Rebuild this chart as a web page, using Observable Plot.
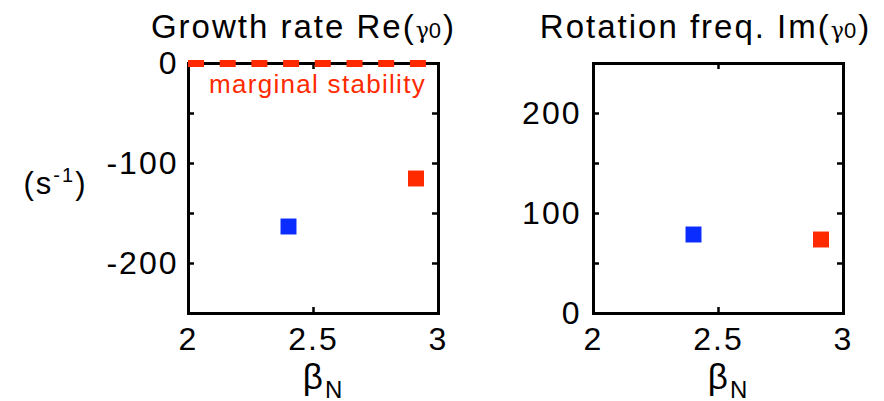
<!DOCTYPE html>
<html><head><meta charset="utf-8">
<script src="https://cdn.jsdelivr.net/npm/d3@7"></script>
<script src="https://cdn.jsdelivr.net/npm/@observablehq/plot@0.6"></script>
<style>body{margin:0;background:#fff;} #wrap{display:flex;width:884px;height:401px;overflow:hidden;}</style>
</head><body><div id="wrap"></div>
<script>
// ---- data ----
const betaN = [2.40, 2.91];
const growthRate = [-163, -115];
const rotationFreq = [79, 74];
const caseColor = ["#0a2cff", "#ff2a00"];
const xTicks = [2, 2.5, 3];
const xMinor = [2.5];
const growthTicks = [0, -100, -200];
const growthMinor = [-50, -100, -150, -200];
const rotTicks = [0, 100, 200];
const rotMinor = [50, 100, 150, 200];
const marginal = [{y: 0, x1: 2, x2: 2.965}];
const titleLeft = "Growth rate Re(γ0)";
const titleRight = "Rotation freq. Im(γ0)";
const xLabel = "βN";
const unitLabel = "(s-1)";
const marginalLabel = "marginal stability";

const red = "#ff2a00";
const points = betaN.map((b, i) => ({beta: b, growth: growthRate[i], rot: rotationFreq[i], color: caseColor[i]}));
const font = "'Liberation Sans', Arial, Helvetica, sans-serif";
const W = 250, H = 250, tk = 6;

function rich(svg) {
  const g = '<tspan font-size="22" font-family="DejaVu Serif" letter-spacing="0">γ</tspan><tspan font-size="22">0</tspan><tspan>)</tspan>';
  const map = {
    [titleLeft]: '<tspan>Growth rate Re(</tspan>' + g,
    [titleRight]: '<tspan>Rotation freq. Im(</tspan>' + g,
    [xLabel]: '<tspan>β</tspan><tspan font-size="24" dy="9">N</tspan>',
    [unitLabel]: '<tspan>(s</tspan><tspan font-size="20" dy="-12">-1</tspan><tspan dy="12">)</tspan>'
  };
  d3.select(svg).selectAll("text").each(function() {
    const t = this.textContent;
    if (map[t]) this.innerHTML = map[t];
    if (t === marginalLabel) this.style.letterSpacing = "1.3px";
  });
  return svg;
}

function commonMarks(minorY, tickLabelsY, yPad) {
  return [
    Plot.axisX(xTicks, {tickSize: 0, tickPadding: 14, fontSize: 32, label: null, tickFormat: d => String(d)}),
    Plot.axisY(tickLabelsY, {tickSize: 0, tickPadding: yPad, fontSize: 32, label: null, tickFormat: d => String(d)}),
    Plot.tickY(minorY, {y: d => d, insetRight: W - tk, strokeWidth: 2.5}),
    Plot.tickY(minorY, {y: d => d, insetLeft: W - tk, strokeWidth: 2.5}),
    Plot.tickX(xMinor, {x: d => d, insetTop: H - tk, strokeWidth: 2.5}),
    Plot.tickX(xMinor, {x: d => d, insetBottom: H - tk, strokeWidth: 2.5}),
    Plot.frame({strokeWidth: 3, stroke: "#000"})
  ];
}

const left = Plot.plot({
  width: 450, height: 401,
  marginLeft: 188, marginRight: 12, marginTop: 63, marginBottom: 88,
  style: {fontFamily: font, letterSpacing: "2px", background: "transparent", overflow: "visible", color: "#000"},
  x: {domain: [2, 3]},
  y: {domain: [-250, 0]},
  marks: [
    ...commonMarks(growthMinor, growthTicks, 10),
    Plot.ruleY(marginal, {y: "y", x1: "x1", x2: "x2", stroke: red, strokeWidth: 7, strokeDasharray: "16,15.7"}),
    Plot.dot(points, {x: "beta", y: "growth", fill: "color", symbol: "square", r: 9}),
    Plot.text([marginalLabel], {frameAnchor: "top", dx: 4, dy: 29, lineAnchor: "bottom", fontSize: 26, fill: red}),
    Plot.text([titleLeft], {frameAnchor: "top", dx: -10, dy: -26, lineAnchor: "bottom", fontSize: 33}),
    Plot.text([xLabel], {frameAnchor: "bottom", dx: 10, dy: 75, lineAnchor: "bottom", fontSize: 35}),
    Plot.text([unitLabel], {frameAnchor: "left", dx: -165, dy: 5, textAnchor: "start", lineAnchor: "bottom", fontSize: 31})
  ]
});

const right = Plot.plot({
  width: 434, height: 401,
  marginLeft: 143, marginRight: 41, marginTop: 63, marginBottom: 88,
  style: {fontFamily: font, letterSpacing: "2px", background: "transparent", overflow: "visible", color: "#000"},
  x: {domain: [2, 3]},
  y: {domain: [0, 250]},
  marks: [
    ...commonMarks(rotMinor, rotTicks, 12),
    Plot.dot(points, {x: "beta", y: "rot", fill: "color", symbol: "square", r: 9}),
    Plot.text([titleRight], {frameAnchor: "top", dx: -13, dy: -26, lineAnchor: "bottom", fontSize: 33}),
    Plot.text([xLabel], {frameAnchor: "bottom", dx: 10, dy: 75, lineAnchor: "bottom", fontSize: 35})
  ]
});

const wrap = document.getElementById("wrap");
wrap.appendChild(rich(left));
wrap.appendChild(rich(right));
</script>
</body></html>
